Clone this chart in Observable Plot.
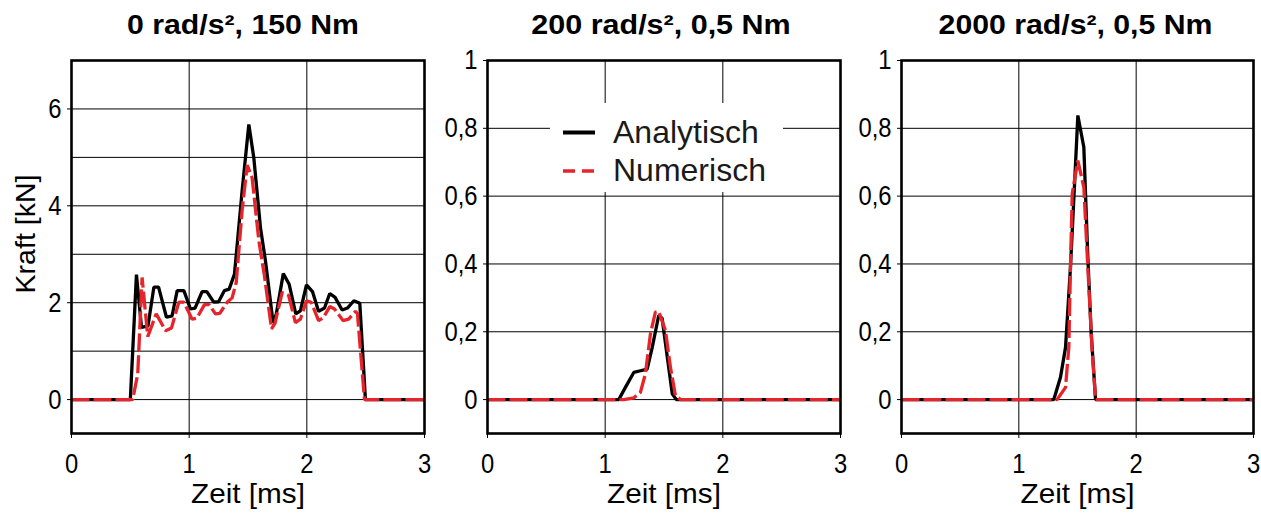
<!DOCTYPE html>
<html>
<head>
<meta charset="utf-8">
<script src="https://cdn.jsdelivr.net/npm/d3@7"></script>
<script src="https://cdn.jsdelivr.net/npm/@observablehq/plot@0.6"></script>
<style>
  body { margin: 0; background: #fff; }
  #chart { position: relative; width: 1261px; height: 515px; overflow: hidden; background: #fff; }
  #chart > svg.panel { position: absolute; top: 0; }
</style>
</head>
<body>
<div id="chart"></div>
<script>
// Kraft über Zeit, drei Lastfälle: analytische Lösung gegen numerische Simulation
const titel = ["0 rad/s², 150 Nm", "200 rad/s², 0,5 Nm", "2000 rad/s², 0,5 Nm"];
const serien = ["Analytisch", "Numerisch"];
const zeitTicks = [0, 1, 2, 3];

// Lastfall 1: 0 rad/s², 150 Nm (Kraft in kN)
const zeitA1 = [0, 0.50, 0.552, 0.595, 0.65, 0.70, 0.74, 0.807, 0.855, 0.898, 0.955, 1.011, 1.05, 1.11, 1.15, 1.209, 1.25, 1.30, 1.34, 1.385, 1.45, 1.507, 1.549, 1.606, 1.648, 1.713, 1.74, 1.80, 1.85, 1.906, 1.945, 1.997, 2.048, 2.10, 2.15, 2.195, 2.24, 2.30, 2.345, 2.40, 2.45, 2.498, 3.0];
const kraftA1 = [0, 0, 2.58, 1.49, 1.52, 2.32, 2.32, 1.70, 1.73, 2.25, 2.25, 1.87, 1.89, 2.23, 2.23, 2.01, 2.02, 2.25, 2.28, 2.59, 4.31, 5.68, 5.0, 3.55, 2.87, 1.59, 1.76, 2.60, 2.38, 1.77, 1.83, 2.37, 2.23, 1.82, 1.89, 2.19, 2.11, 1.85, 1.89, 2.04, 1.99, 0, 0];
const zeitN1 = [0, 0.52, 0.563, 0.60, 0.648, 0.72, 0.80, 0.85, 0.912, 0.955, 1.025, 1.065, 1.13, 1.17, 1.223, 1.26, 1.323, 1.365, 1.40, 1.45, 1.493, 1.535, 1.592, 1.64, 1.70, 1.73, 1.79, 1.845, 1.903, 1.945, 1.997, 2.037, 2.10, 2.14, 2.195, 2.235, 2.308, 2.355, 2.413, 2.43, 2.49, 3.0];
const kraftN1 = [0, 0, 0.53, 2.52, 1.30, 1.77, 1.42, 1.48, 2.01, 2.01, 1.66, 1.68, 1.96, 1.96, 1.77, 1.78, 2.01, 2.10, 2.42, 3.90, 4.84, 4.58, 3.28, 2.55, 1.46, 1.58, 2.21, 2.15, 1.59, 1.66, 2.04, 2.01, 1.63, 1.69, 1.92, 1.87, 1.63, 1.66, 1.82, 1.78, 0, 0];

// Lastfall 2: 200 rad/s², 0,5 Nm
const zeitA2 = [0, 1.116, 1.172, 1.243, 1.30, 1.357, 1.40, 1.455, 1.484, 1.532, 1.57, 1.605, 3.0];
const kraftA2 = [0, 0, 0.036, 0.08, 0.085, 0.09, 0.154, 0.248, 0.24, 0.115, 0.017, 0, 0];
const zeitN2 = [0, 1.16, 1.243, 1.30, 1.342, 1.385, 1.427, 1.455, 1.512, 1.555, 1.597, 1.64, 3.0];
const kraftN2 = [0, 0, 0.005, 0.022, 0.076, 0.194, 0.258, 0.26, 0.204, 0.095, 0.012, 0, 0];

// Lastfall 3: 2000 rad/s², 0,5 Nm
const zeitA3 = [0, 1.298, 1.355, 1.398, 1.44, 1.475, 1.503, 1.554, 1.588, 1.617, 1.654, 3.0];
const kraftA3 = [0, 0, 0.066, 0.154, 0.39, 0.636, 0.838, 0.744, 0.42, 0.194, 0, 0];
const zeitN3 = [0, 1.326, 1.398, 1.426, 1.44, 1.455, 1.503, 1.554, 1.588, 1.625, 1.654, 3.0];
const kraftN3 = [0, 0, 0.036, 0.154, 0.39, 0.607, 0.705, 0.626, 0.39, 0.144, 0, 0];

// Achsen
const kraftTicks1 = [0, 2, 4, 6];
const kraftGitter1 = [0, 1, 2, 3, 4, 5, 6];
const kraftTicks2 = [0, 0.2, 0.4, 0.6, 0.8, 1];
const kraftGitter2 = [0, 0.2, 0.4, 0.6, 0.8];

const rot = "#e5252b";
const schrift = "'Liberation Sans', Arial, sans-serif";
const zeitLabel = "Zeit [ms]";

const reihen = (zeit, kraft) => zeit.map((z, i) => ({zeit: z, kraft: kraft[i]}));
const komma = d => String(d).replace(".", ",");

// Beschriftung horizontal um ihren Textanker strecken bzw. stauchen
function skalieren(auswahl, k) {
  auswahl.each(function () {
    const t = this.getAttribute("transform");
    if (t) {
      this.setAttribute("transform", `${t} scale(${k},1)`);
    } else {
      const x = +this.getAttribute("x") || 0, y = +this.getAttribute("y") || 0;
      this.removeAttribute("x"); this.removeAttribute("y");
      this.setAttribute("transform", `translate(${x},${y}) scale(${k},1)`);
    }
  });
}

function diagramm({links, breite, rechts, randLinks, titelText, titelDx, titelK, yBereich, yTicks, yGitter, analytisch, numerisch, yLabel}) {
  const marks = [
    Plot.gridX([1, 2], {stroke: "#000", strokeOpacity: 1, strokeWidth: 1}),
    Plot.gridY(yGitter, {stroke: "#000", strokeOpacity: 1, strokeWidth: 1}),
    Plot.line(analytisch, {x: "zeit", y: "kraft", stroke: "#000", strokeWidth: 3.3, strokeLinejoin: "miter", strokeLinecap: "butt"}),
    Plot.line(numerisch, {x: "zeit", y: "kraft", stroke: rot, strokeWidth: 3.3, strokeDasharray: "18,4", strokeLinejoin: "miter", strokeLinecap: "butt"}),
    Plot.frame({stroke: "#000", strokeWidth: 2.6}),
    Plot.axisX(zeitTicks, {tickSize: 5, tickPadding: 15, tickFormat: d => d, label: null, fontSize: 28, fontFamily: schrift}),
    Plot.axisY(yTicks, {tickSize: 4, tickPadding: 6, tickFormat: komma, label: null, fontSize: 28, fontFamily: schrift}),
    Plot.text([titelText], {frameAnchor: "top", textAnchor: "middle", dx: titelDx, dy: -35, lineAnchor: "middle", fontWeight: "bold", fontSize: 28, fontFamily: schrift}),
    Plot.text([zeitLabel], {frameAnchor: "bottom", textAnchor: "middle", dy: 61, lineAnchor: "middle", fontSize: 27, fontFamily: schrift})
  ];
  if (yLabel) {
    marks.push(Plot.text([yLabel], {frameAnchor: "left", textAnchor: "middle", dx: -45.5, dy: -13, rotate: -90, lineAnchor: "middle", fontSize: 28.5, fontFamily: schrift}));
  }
  const svg = Plot.plot({
    width: breite,
    height: 515,
    marginTop: 60,
    marginBottom: 82,
    marginLeft: randLinks,
    marginRight: rechts,
    style: {background: "transparent", overflow: "visible", color: "#000", fontFamily: schrift},
    x: {domain: [0, 3]},
    y: {domain: yBereich},
    marks
  });
  svg.classList.add("panel");
  svg.style.left = links + "px";
  const texte = d3.select(svg).selectAll("text");
  const tickTexte = new Set([...zeitTicks.map(String), ...yTicks.map(komma)]);
  skalieren(texte.filter(function () { return tickTexte.has(this.textContent); }), 0.85);
  skalieren(texte.filter(function () { return this.textContent === titelText; }), titelK);
  skalieren(texte.filter(function () { return this.textContent === zeitLabel; }), 1.1);
  return svg;
}

const chart = document.getElementById("chart");

chart.append(diagramm({
  links: 0, breite: 440, randLinks: 71, rechts: 16, titelText: titel[0], titelDx: -5, titelK: 1.08,
  yBereich: [-0.7, 7], yTicks: kraftTicks1, yGitter: kraftGitter1,
  analytisch: reihen(zeitA1, kraftA1), numerisch: reihen(zeitN1, kraftN1), yLabel: "Kraft [kN]"
}));
chart.append(diagramm({
  links: 440, breite: 420, randLinks: 47, rechts: 20, titelText: titel[1], titelDx: -3, titelK: 1.09,
  yBereich: [-0.1, 1], yTicks: kraftTicks2, yGitter: kraftGitter2,
  analytisch: reihen(zeitA2, kraftA2), numerisch: reihen(zeitN2, kraftN2)
}));
chart.append(diagramm({
  links: 860, breite: 401, randLinks: 41, rechts: 8, titelText: titel[2], titelDx: -2, titelK: 1.08,
  yBereich: [-0.1, 1], yTicks: kraftTicks2, yGitter: kraftGitter2,
  analytisch: reihen(zeitA3, kraftA3), numerisch: reihen(zeitN3, kraftN3)
}));

// Legende im mittleren Diagramm
const legende = d3.select(chart).append("svg")
  .attr("width", 233).attr("height", 89)
  .style("position", "absolute").style("left", "550px").style("top", "103px");
legende.append("rect").attr("width", 233).attr("height", 89).attr("fill", "#fff");
const eintrag = legende.selectAll("g").data(serien).join("g")
  .attr("transform", (d, i) => `translate(0,${i === 0 ? 29.5 : 68})`);
eintrag.append("line")
  .attr("x1", 13).attr("x2", 45)
  .attr("stroke", (d, i) => i === 0 ? "#000" : rot)
  .attr("stroke-width", (d, i) => i === 0 ? 4 : 3.5)
  .attr("stroke-dasharray", (d, i) => i === 0 ? null : "12,7");
eintrag.append("text")
  .attr("x", 63).attr("y", 10)
  .attr("font-family", schrift).attr("font-size", 32)
  .attr("fill", "#1a1a1a")
  .text(d => d);
</script>
</body>
</html>
